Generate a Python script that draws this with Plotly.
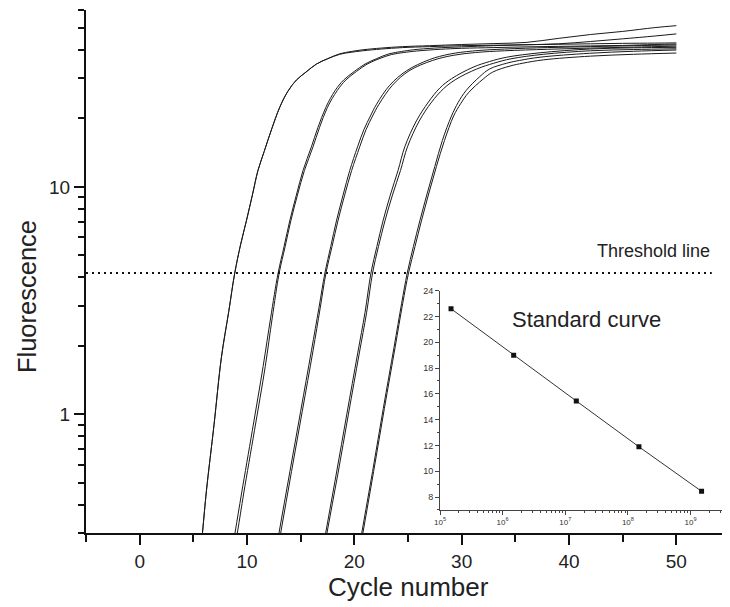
import math
import plotly.graph_objects as go

# ---------------- main amplification curves (cycle, fluorescence) ----------------
cyc_1a = [4.8, 5.85, 6.22, 6.93, 7.61, 8.3, 8.86, 9.4, 9.94, 10.5, 11.02, 11.6, 12.27, 13.05, 13.8, 14.6, 15.5, 16.47, 17.5, 18.64, 19.7, 20.8, 22.5, 24.5, 27, 30, 33, 36, 39, 42, 45, 48, 50]
flu_1a = [0.09, 0.30, 0.46, 0.90, 1.77, 2.83, 4.18, 5.56, 7.08, 9.2, 11.8, 14.3, 17.8, 22.4, 26.3, 29.5, 32.0, 34.7, 36.6, 38.5, 39.4, 40.1, 40.8, 41.4, 41.8, 42.3, 42.7, 43.2, 45.0, 46.8, 48.3, 50.2, 51.2]

cyc_1b = [4.8, 5.85, 6.22, 6.93, 7.61, 8.3, 8.86, 9.4, 9.94, 10.5, 11.02, 11.6, 12.27, 13.05, 13.8, 14.6, 15.5, 16.47, 17.5, 18.64, 19.7, 20.8, 22.5, 24.5, 27, 30, 33, 36, 39, 42, 45, 48, 50]
flu_1b = [0.09, 0.30, 0.46, 0.90, 1.77, 2.83, 4.18, 5.56, 7.08, 9.2, 11.8, 14.3, 17.8, 22.4, 26.3, 29.5, 32.0, 34.7, 36.6, 38.3, 39.1, 39.7, 40.4, 41.0, 41.4, 41.8, 42.0, 42.2, 42.4, 42.6, 42.8, 42.9, 43.0]

cyc_2a = [8.0, 8.88, 9.5, 10.5, 11.5, 12.2, 12.9, 13.45, 13.98, 14.6, 15.22, 16.0, 16.6, 17.35, 18.2, 19.0, 20.0, 21.0, 22.1, 23.24, 24.4, 25.5, 27.5, 30, 33, 36, 39, 42, 45, 48, 50]
flu_2a = [0.17, 0.30, 0.45, 0.85, 1.62, 2.65, 4.18, 5.45, 7.08, 9.2, 11.8, 15.0, 18.2, 22.4, 26.5, 29.5, 32.2, 34.7, 36.7, 38.5, 39.4, 40.1, 40.8, 41.3, 41.8, 42.2, 42.6, 43.6, 44.8, 46.1, 47.1]

cyc_2b = [8.2, 9.1, 9.7, 10.7, 11.7, 12.35, 13.0, 13.55, 14.08, 14.7, 15.35, 16.15, 16.75, 17.5, 18.4, 19.2, 20.2, 21.2, 22.3, 23.45, 24.6, 25.8, 28, 30, 33, 36, 39, 42, 45, 48, 50]
flu_2b = [0.17, 0.30, 0.45, 0.85, 1.62, 2.65, 4.18, 5.45, 7.08, 9.2, 11.8, 15.0, 18.2, 22.4, 26.5, 29.5, 32.2, 34.7, 36.6, 38.2, 39.0, 39.6, 40.3, 40.7, 41.0, 41.3, 41.5, 41.7, 41.9, 42.3, 42.5]

cyc_3a = [12.0, 12.98, 14.0, 15.0, 16.0, 16.7, 17.26, 17.8, 18.33, 18.95, 19.57, 20.3, 20.9, 21.5, 22.07, 23.3, 24.86, 27.0, 28.9, 31, 34, 38, 42, 46, 50]
flu_3a = [0.16, 0.30, 0.56, 1.03, 1.9, 2.93, 4.18, 5.46, 7.08, 9.2, 11.8, 15.0, 17.9, 20.5, 23.1, 28.0, 32.4, 36.3, 38.4, 39.6, 40.4, 41.0, 41.4, 41.8, 42.1]

cyc_3b = [12.15, 13.14, 14.15, 15.15, 16.15, 16.82, 17.36, 17.92, 18.47, 19.1, 19.75, 20.5, 21.1, 21.7, 22.3, 23.55, 25.1, 27.3, 29.2, 31.3, 34, 38, 42, 46, 50]
flu_3b = [0.16, 0.30, 0.56, 1.03, 1.9, 2.93, 4.18, 5.46, 7.08, 9.2, 11.8, 15.0, 17.9, 20.5, 23.1, 28.0, 32.4, 36.0, 37.9, 39.0, 39.7, 40.3, 40.8, 41.2, 41.6]

cyc_4a = [16.3, 17.33, 18.3, 19.3, 20.3, 21.0, 21.55, 22.1, 22.67, 23.35, 24.07, 24.7, 25.78, 26.9, 27.96, 29.05, 31.06, 32.6, 34.2, 37.3, 41.9, 46, 50]
flu_4a = [0.16, 0.30, 0.54, 1.0, 1.84, 2.81, 4.18, 5.46, 7.08, 9.2, 11.8, 15.0, 19.5, 23.6, 27.2, 29.9, 33.6, 35.6, 37.2, 38.9, 40.4, 40.9, 41.1]

cyc_4b = [16.45, 17.45, 18.45, 19.45, 20.45, 21.15, 21.7, 22.25, 22.85, 23.55, 24.3, 24.95, 26.05, 27.2, 28.3, 29.4, 31.4, 33.0, 34.6, 37.6, 42, 46, 50]
flu_4b = [0.16, 0.30, 0.54, 1.0, 1.84, 2.81, 4.18, 5.46, 7.08, 9.2, 11.8, 15.0, 19.5, 23.6, 27.0, 29.6, 33.0, 35.0, 36.6, 38.3, 39.7, 40.2, 40.5]

cyc_5a = [19.7, 20.69, 21.7, 22.7, 23.7, 24.4, 24.93, 25.5, 26.1, 26.8, 27.5, 28.2, 29.05, 29.67, 30.4, 31.7, 32.6, 34.2, 35.4, 37.3, 41.9, 46, 50]
flu_5a = [0.16, 0.30, 0.56, 1.06, 1.97, 3.06, 4.18, 5.46, 7.08, 9.4, 12.3, 16.0, 20.5, 23.5, 26.5, 30.6, 33.0, 35.0, 36.0, 37.2, 38.7, 39.5, 40.0]

cyc_5b = [19.8, 20.8, 21.8, 22.8, 23.8, 24.5, 25.05, 25.65, 26.25, 26.95, 27.65, 28.4, 29.25, 29.9, 30.65, 32.0, 32.9, 34.5, 35.7, 37.6, 42, 46, 50]
flu_5b = [0.16, 0.30, 0.56, 1.06, 1.97, 3.06, 4.18, 5.46, 7.08, 9.4, 12.3, 16.0, 20.5, 23.2, 26.0, 29.8, 32.0, 34.0, 35.0, 36.2, 37.6, 38.3, 38.8]

threshold_value = 4.18
threshold_x = [-5, 53.3]

# ---------------- standard curve (inset) ----------------
std_conc = [1.5e5, 1.5e6, 1.5e7, 1.5e8, 1.5e9]
std_ct = [22.6, 19.0, 15.45, 11.9, 8.45]

x_major = [0, 10, 20, 30, 40, 50]
x_minor = [-5, 5, 15, 25, 35, 45, 55]
y_major = [1, 10]
y_major_text = ["1", "10"]
y_minor = [0.3, 0.4, 0.5, 0.6, 0.7, 0.8, 0.9, 2, 3, 4, 5, 6, 7, 8, 9, 20, 30, 40, 50, 60]
inset_y_major = [8, 10, 12, 14, 16, 18, 20, 22, 24]
inset_y_minor = [7, 9, 11, 13, 15, 17, 19, 21, 23]
inset_x_major = [1e5, 1e6, 1e7, 1e8, 1e9]
inset_x_text = ["10<sup>5</sup>", "10<sup>6</sup>", "10<sup>7</sup>", "10<sup>8</sup>", "10<sup>9</sup>"]
inset_x_minor = [m * 10 ** e for e in range(5, 10) for m in range(2, 10)]

curves = [(cyc_1a, flu_1a), (cyc_1b, flu_1b), (cyc_2a, flu_2a), (cyc_2b, flu_2b),
          (cyc_3a, flu_3a), (cyc_3b, flu_3b), (cyc_4a, flu_4a), (cyc_4b, flu_4b),
          (cyc_5a, flu_5a), (cyc_5b, flu_5b)]

fig = go.Figure()
for cx, fy in curves:
    fig.add_trace(go.Scatter(x=cx, y=fy, mode="lines",
                             line=dict(color="#1a1a1a", width=1.0, shape="spline", smoothing=1.0),
                             showlegend=False, hoverinfo="skip", cliponaxis=True))

fig.add_trace(go.Scatter(x=threshold_x, y=[threshold_value, threshold_value], mode="lines",
                         line=dict(color="#111111", width=2, dash="2px,4px"),
                         showlegend=False, hoverinfo="skip"))

fig.add_trace(go.Scatter(x=std_conc, y=std_ct, mode="lines+markers", xaxis="x2", yaxis="y2",
                         line=dict(color="#333333", width=1),
                         marker=dict(symbol="square", size=5, color="#111111"),
                         showlegend=False, hoverinfo="skip"))

font_family = "Liberation Sans, Arial, sans-serif"

# page body keeps an 8px margin, so the figure is 8px smaller than the window
fig.update_layout(
    width=722, height=599,
    margin=dict(l=78, r=0, t=2, b=74, pad=0),
    paper_bgcolor="white", plot_bgcolor="rgba(0,0,0,0)",
    font=dict(family=font_family, color="#111111"),
    xaxis=dict(range=[-5, 55], automargin=False, showline=True, linecolor="#111111", linewidth=2,
               showgrid=False, zeroline=False, ticks="outside", ticklen=10, tickwidth=2,
               tickcolor="#111111", tickmode="array", tickvals=x_major,
               tickfont=dict(size=19, color="#222222"),
               minor=dict(tickmode="array", tickvals=x_minor, ticks="outside", ticklen=7,
                          tickwidth=2, tickcolor="#111111", showgrid=False),
               domain=[0, 1]),
    yaxis=dict(type="log", range=[math.log10(0.3), math.log10(60)], automargin=False,
               showline=True, linecolor="#111111", linewidth=2, showgrid=False, zeroline=False,
               ticks="outside", ticklen=10, tickwidth=2, tickcolor="#111111",
               tickmode="array", tickvals=y_major, ticktext=y_major_text,
               tickfont=dict(size=19, color="#222222"),
               minor=dict(tickmode="array", tickvals=y_minor, ticks="outside", ticklen=6,
                          tickwidth=2, tickcolor="#111111", showgrid=False),
               domain=[0, 1]),
    xaxis2=dict(type="log", range=[5, 9.63], anchor="y2", domain=[0.5497, 1.0], automargin=False,
                showline=True, linecolor="#444444", linewidth=1, showgrid=False, zeroline=False,
                ticks="outside", ticklen=4, tickwidth=1, tickcolor="#444444",
                tickmode="array", tickvals=inset_x_major, ticktext=inset_x_text,
                tickfont=dict(size=8, color="#333333"),
                minor=dict(tickmode="array", tickvals=inset_x_minor, ticks="outside", ticklen=2,
                           tickwidth=1, tickcolor="#444444", showgrid=False)),
    yaxis2=dict(range=[7, 24], anchor="x2", domain=[0.044, 0.4633], automargin=False,
                showline=True, linecolor="#444444", linewidth=1, showgrid=False, zeroline=False,
                ticks="outside", ticklen=4, tickwidth=1, tickcolor="#444444",
                tickmode="array", tickvals=inset_y_major,
                tickfont=dict(size=9, color="#333333"),
                minor=dict(tickmode="array", tickvals=inset_y_minor, ticks="outside", ticklen=2,
                           tickwidth=1, tickcolor="#444444", showgrid=False)),
    annotations=[
        dict(text="Cycle number", x=0.5, y=-0.104, xref="paper", yref="paper",
             xanchor="center", yanchor="middle", showarrow=False,
             font=dict(size=26, color="#222222")),
        dict(text="Fluorescence", x=(19 - 78) / 644, y=0.453, xref="paper", yref="paper",
             xanchor="center", yanchor="middle", textangle=-90, showarrow=False,
             font=dict(size=25.5, color="#222222")),
        dict(text="Threshold line", x=53.3, y=math.log10(threshold_value), xref="x", yref="y",
             xanchor="right", yanchor="bottom", yshift=10, showarrow=False,
             font=dict(size=18, color="#222222")),
        dict(text="Standard curve", x=7.336, y=21.8, xref="x2", yref="y2",
             xanchor="center", yanchor="middle", showarrow=False,
             font=dict(size=22, color="#222222")),
    ],
)

fig.write_html("out.html")
